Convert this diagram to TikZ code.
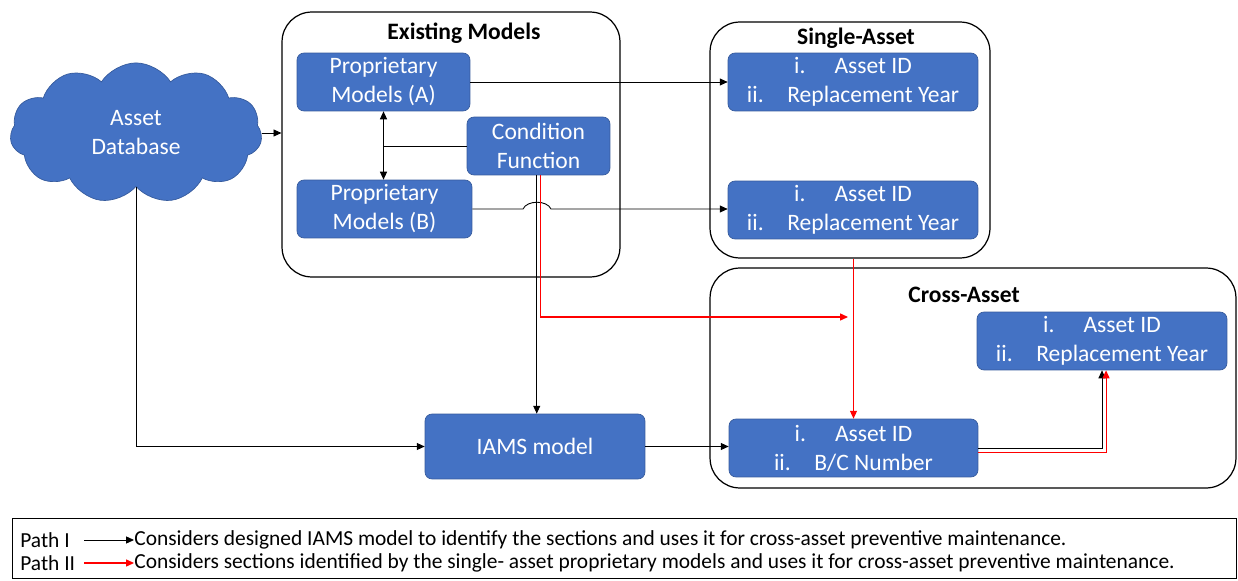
\documentclass[tikz,border=0pt]{standalone}
\usepackage{fontspec}
\setmainfont{Carlito}
\usetikzlibrary{arrows.meta, calc, positioning, shapes.symbols}
\definecolor{boxblue}{HTML}{4472C4}
\newcommand{\itm}[2]{\makebox[23pt][l]{#1}#2}

\begin{document}
\begin{tikzpicture}[
    x=0.02cm, y=-0.02cm,
    >={Triangle[length=4.5pt,width=4pt]},
    every node/.style={font=\fontsize{13.4}{16.5}\selectfont},
    block/.style ={draw=boxblue!80!black, fill=boxblue, text=white, rounded corners=4pt,
                   align=center, inner sep=0pt, minimum height=1.16cm},
    group/.style ={draw, rounded corners=17pt, line width=0.7pt, inner sep=0pt},
    title/.style ={font=\fontsize{13.4}{16.5}\selectfont\bfseries, inner sep=0pt},
    flow/.style  ={->, line width=0.5pt},
    redflow/.style={->, line width=0.6pt, red},
    legtext/.style={font=\fontsize{12.2}{14}\selectfont, anchor=west, inner sep=0pt},
]
\useasboundingbox (0,0) rectangle (1238,581);

% the three frames
\node[group, minimum width=6.76cm, minimum height=5.3cm] (em) at (451,144.5) {};
\node[group, minimum width=5.6cm, minimum height=4.72cm] (sa) at (850,140) {};
\node[group, minimum width=10.52cm, minimum height=4.4cm] (ca) at (973,378) {};
\node[title] (emt) at (464,33) {Existing Models};
\node[title] (sat) at (856,38) {Single-Asset};
\node[title] (cat) at (964,295) {Cross-Asset};

\node[cloud, cloud puffs=11, cloud puff arc=115, draw=boxblue!80!black, fill=boxblue,
      text=white, align=center, minimum width=5.04cm, minimum height=1.9cm,
      inner sep=0pt] (db) at (136,133) {Asset\\Database};

\node[block, minimum width=3.46cm] (pa) at (383.5,82) {Proprietary\\Models (A)};
\node[block, minimum width=3.5cm] (pb) at (384.5,209) {Proprietary\\Models (B)};
\node[block, minimum width=2.86cm] (cf) at (538.5,146) {Condition\\Function};

\node[block, minimum width=5cm] (sa1) at (853,82)
     {\itm{i.}{Asset ID}\\\itm{ii.}{Replacement Year}};
\node[block, minimum width=5cm] (sa2) at (853,210)
     {\itm{i.}{Asset ID}\\\itm{ii.}{Replacement Year}};
\node[block, minimum width=5cm] (ct) at (1102,341)
     {\itm{i.}{Asset ID}\\\itm{ii.}{Replacement Year}};
\node[block, minimum width=4.98cm] (cb) at (853.5,448)
     {\itm{i.}{Asset ID}\\\itm{ii.}{B/C Number}};
\node[block, minimum width=4.4cm, minimum height=1.3cm] (iams) at (535,446.5) {IAMS model};

% path I (black)
\draw[flow] (db.east) -- (db.east -| em.west);
\draw[flow] (pa.east) -- (pa.east -| sa1.west);
\coordinate (hop) at ($(pb.east -| cf.south)+(-1.5,0)$);
\draw[flow] (pb.east) -- ($(hop)+(-14,0)$)
     .. controls ($(hop)+(-10,-9)$) and ($(hop)+(10,-9)$) .. ($(hop)+(14,0)$)
     -- (hop -| sa2.west);
\draw[flow, <->] (pa.south) -- (pa.south |- pb.north);
\draw[line width=0.5pt] (cf.west) -- (cf.west -| pa.south);
\draw[flow] ([xshift=-1pt]cf.south) -- ([xshift=-1pt]cf.south |- iams.north);
\draw[flow] (db.south) |- (iams.west);
\draw[flow] (iams.east) -- (iams.east -| cb.west);
\draw[flow] (cb.east) -| (ct.south);

% path II (red)
\coordinate (join) at (848,317);
\draw[redflow] ([xshift=1pt]cf.south) |- (join);
\draw[redflow] (cb.north |- sa.south) -- (cb.north);
\draw[redflow] ([yshift=-2.3pt]cb.east) -| ([xshift=2.3pt]ct.south);

% legend
\node[draw, line width=0.5pt, minimum width=24.5cm, minimum height=1.2cm, inner sep=0pt]
     (leg) at (624.5,548) {};
\node[legtext] (p1) at (20,540) {Path I};
\node[legtext] (p2) at (20,563) {Path II};
\node[legtext] (t1) at (134,540)
     {Considers designed IAMS model to identify the sections and uses it for cross-asset preventive maintenance.};
\node[legtext] (t2) at (134,563)
     {Considers sections identified by the single- asset proprietary models and uses it for cross-asset preventive maintenance.};
\coordinate (s1) at (84,540);
\coordinate (s2) at (84,563);
\draw[flow] (s1) -- (t1.west);
\draw[redflow] (s2) -- (t2.west);
\end{tikzpicture}
\end{document}
